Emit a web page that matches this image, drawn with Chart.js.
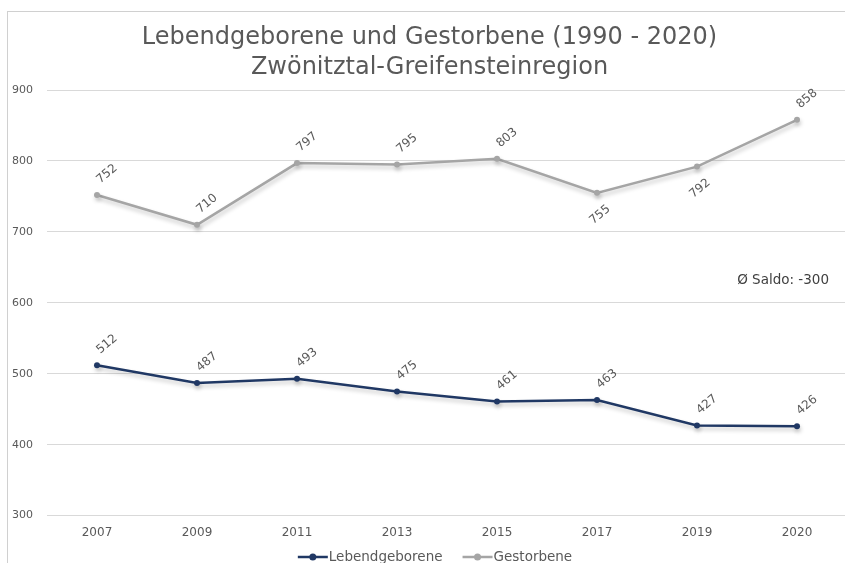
<!DOCTYPE html>
<html>
<head>
<meta charset="utf-8">
<script src="https://cdn.jsdelivr.net/npm/chart.js@4/dist/chart.umd.min.js"></script>
<style>
  html, body { margin: 0; padding: 0; background: #fff; overflow: hidden; }
  #wrap { width: 860px; height: 563px; }
</style>
</head>
<body>
<div id="wrap"><canvas id="chart" width="860" height="563"></canvas></div>
<script>
// Daten
var jahre = ['2007', '2009', '2011', '2013', '2015', '2017', '2019', '2020'];
var lebendgeborene = [512, 487, 493, 475, 461, 463, 427, 426];
var gestorbene = [752, 710, 797, 795, 803, 755, 792, 858];
var yTicks = [300, 400, 500, 600, 700, 800, 900];
var saldoText = 'Ø Saldo: -300';

var schrift = "'DejaVu Sans', sans-serif";
var farbeBlau = '#203864';
var farbeGrau = '#a5a5a5';
var textGrau = '#595959';

// bei diesen Jahren steht das Label der Gestorbenen unter dem Punkt
var gestorbeneLabelUnten = ['2017', '2019'];

// Rahmen, Schatten, Wertelabels, Saldo und Legende
var extras = {
	id: 'extras',
	beforeDraw: function(chart) {
		var ctx = chart.ctx;
		ctx.save();
		ctx.strokeStyle = '#d0d0d0';
		ctx.lineWidth = 1;
		ctx.strokeRect(7.5, 11.5, 900, 600);
		ctx.restore();
	},
	beforeDatasetsDraw: function(chart) {
		var ctx = chart.ctx;
		ctx.save();
		ctx.shadowColor = 'rgba(0,0,0,0.22)';
		ctx.shadowBlur = 4;
		ctx.shadowOffsetX = 1;
		ctx.shadowOffsetY = 3;
	},
	afterDatasetsDraw: function(chart) {
		var ctx = chart.ctx;
		ctx.restore();

		// Wertelabels schräg
		ctx.save();
		ctx.font = '12px ' + schrift;
		ctx.fillStyle = textGrau;
		ctx.textAlign = 'center';
		ctx.textBaseline = 'middle';
		chart.data.datasets.forEach(function(ds, di) {
			var meta = chart.getDatasetMeta(di);
			meta.data.forEach(function(pt, i) {
				var unten = di == 1 && gestorbeneLabelUnten.indexOf(jahre[i]) >= 0;
				var dx = unten ? 3 : 10;
				var dy = unten ? 22 : -21;
				ctx.save();
				ctx.translate(pt.x + dx, pt.y + dy);
				ctx.rotate(-40 * Math.PI / 180);
				ctx.fillText(String(ds.data[i]), 0, 0);
				ctx.restore();
			});
		});
		ctx.restore();
	},
	afterDraw: function(chart) {
		var ctx = chart.ctx;
		ctx.save();

		// Saldo
		ctx.font = '13.5px ' + schrift;
		ctx.fillStyle = '#404040';
		ctx.textAlign = 'right';
		ctx.textBaseline = 'middle';
		ctx.fillText(saldoText, 829, chart.scales.y.getPixelForValue(632));

		// Legende
		ctx.font = '13.5px ' + schrift;
		var ds = chart.data.datasets;
		var breiten = ds.map(function(d) { return ctx.measureText(d.label).width; });
		var gesamt = 20;
		ds.forEach(function(d, i) { gesamt += 30 + 1 + breiten[i]; });
		var x = 435 - gesamt / 2;
		var y = 557;
		ctx.textAlign = 'left';
		ds.forEach(function(d, i) {
			ctx.strokeStyle = d.borderColor;
			ctx.lineWidth = 2.5;
			ctx.beginPath();
			ctx.moveTo(x, y);
			ctx.lineTo(x + 30, y);
			ctx.stroke();
			ctx.fillStyle = d.borderColor;
			ctx.beginPath();
			ctx.arc(x + 15, y, 3.5, 0, Math.PI * 2);
			ctx.fill();
			ctx.fillStyle = textGrau;
			ctx.fillText(d.label, x + 31, y);
			x += 30 + 1 + breiten[i] + 20;
		});
		ctx.restore();
	}
};

var ctx = document.getElementById('chart');

var data = {
	labels: jahre,
	datasets: [
		{
			label: 'Lebendgeborene',
			data: lebendgeborene,
			borderColor: farbeBlau,
			backgroundColor: farbeBlau,
			borderWidth: 2.5,
			pointRadius: 3,
			pointBackgroundColor: farbeBlau,
			pointBorderWidth: 0,
			tension: 0
		},
		{
			label: 'Gestorbene',
			data: gestorbene,
			borderColor: farbeGrau,
			backgroundColor: farbeGrau,
			borderWidth: 2.5,
			pointRadius: 3,
			pointBackgroundColor: farbeGrau,
			pointBorderWidth: 0,
			tension: 0
		}
	]
};

var options = {
	responsive: false,
	animation: false,
	layout: {
		padding: { left: 12, right: 13, top: 23, bottom: 13 }
	},
	plugins: {
		legend: { display: false },
		tooltip: { enabled: false },
		title: {
			display: true,
			text: ['Lebendgeborene und Gestorbene (1990 - 2020)', 'Zwönitztal-Greifensteinregion'],
			color: textGrau,
			font: { family: schrift, size: 24, weight: 'normal', lineHeight: 1.25 },
			padding: { top: 0, bottom: 7 }
		}
	},
	scales: {
		x: {
			offset: true,
			grid: { display: false, drawTicks: false },
			border: { display: false },
			ticks: { color: textGrau, font: { family: schrift, size: 12 }, padding: 10, maxRotation: 0 },
			afterFit: function(axis) {
				axis.paddingLeft = 0;
				axis.paddingRight = 0;
			}
		},
		y: {
			min: yTicks[0],
			max: yTicks[yTicks.length - 1],
			afterBuildTicks: function(axis) {
				axis.ticks = yTicks.map(function(v) { return { value: v }; });
			},
			afterFit: function(axis) {
				axis.width = 35;
			},
			grid: { color: '#d9d9d9', lineWidth: 1, drawTicks: false },
			border: { display: false },
			ticks: { color: textGrau, font: { family: schrift, size: 11 }, padding: 14 }
		}
	}
};

var myLineChart = new Chart(ctx, {
	type: 'line',
	data: data,
	options: options,
	plugins: [extras]
});
</script>
</body>
</html>
